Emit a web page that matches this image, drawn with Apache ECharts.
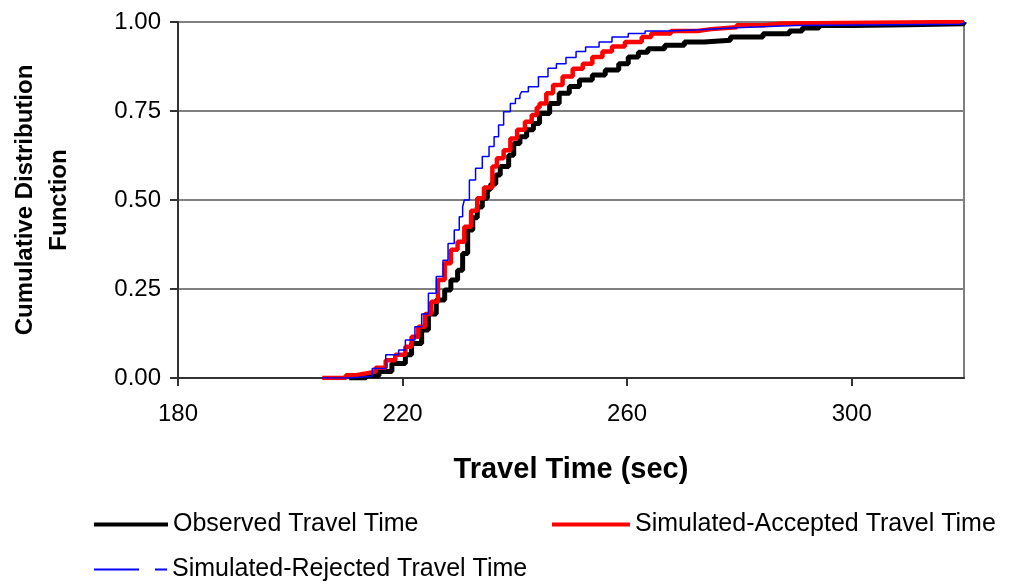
<!DOCTYPE html>
<html>
<head>
<meta charset="utf-8">
<script src="https://cdn.jsdelivr.net/npm/echarts@6/dist/echarts.min.js"></script>
<style>
  html, body { margin: 0; padding: 0; background: #fff; }
  #chart { width: 1013px; height: 585px; }
</style>
</head>
<body>
<div id="chart"></div>
<script>
// Empirical CDFs of travel time: [seconds, cumulative probability]
const observedCdf = [
  [210.5, 0], [213.5, 0.006], [215.8, 0.018], [218.1, 0.041], [220.5, 0.065],
  [221.6, 0.097], [223.4, 0.135], [224.6, 0.18], [226.0, 0.219], [227.5, 0.247],
  [228.6, 0.275], [229.8, 0.303], [230.7, 0.35], [231.6, 0.416], [232.5, 0.45],
  [233.3, 0.48], [234.2, 0.505], [235.1, 0.53], [235.7, 0.545], [236.6, 0.57],
  [237.4, 0.594], [238.9, 0.626], [239.8, 0.659], [240.9, 0.678], [242.1, 0.697],
  [243.3, 0.715], [244.4, 0.743], [246.2, 0.771], [247.9, 0.8], [249.7, 0.819],
  [251.5, 0.837], [253.8, 0.851], [256.1, 0.865], [258.5, 0.883], [260.2, 0.902],
  [262.0, 0.915], [263.7, 0.925], [266.7, 0.935], [270.2, 0.944], [273.7, 0.949],
  [278.4, 0.958], [284.2, 0.967], [288.9, 0.975], [291.2, 0.983], [294.2, 0.99],
  [300.0, 0.992], [310.0, 0.995], [320.0, 1.0]
];

const acceptedCdf = [
  [205.7, 0], [209.9, 0.008], [211.7, 0.013], [213.5, 0.018], [215.2, 0.029],
  [217.0, 0.05], [218.7, 0.065], [220.5, 0.088], [221.6, 0.116], [222.8, 0.144],
  [224.0, 0.18], [225.1, 0.214], [226.3, 0.275], [227.5, 0.322], [228.6, 0.36],
  [229.8, 0.383], [231.0, 0.425], [232.2, 0.47], [233.3, 0.505], [234.5, 0.535],
  [236.0, 0.594], [236.8, 0.617], [238.0, 0.64], [239.2, 0.673], [240.4, 0.697],
  [241.8, 0.72], [243.0, 0.739], [243.9, 0.76], [244.4, 0.771], [245.6, 0.8],
  [246.8, 0.823], [248.5, 0.847], [250.3, 0.869], [252.1, 0.883], [253.8, 0.902],
  [255.6, 0.917], [257.3, 0.931], [259.6, 0.944], [262.6, 0.958], [264.3, 0.968],
  [267.8, 0.975], [272.5, 0.98], [275.0, 0.985], [279.5, 0.991], [284.2, 0.996],
  [287.7, 1.0], [320.0, 1.0]
];

const rejectedCdf = [
  [205.7, 0], [210.5, 0.002], [212.3, 0.005], [214.6, 0.027], [217.0, 0.065],
  [219.3, 0.079], [220.5, 0.107], [222.2, 0.144], [223.4, 0.18], [224.6, 0.238],
  [226.0, 0.285], [227.2, 0.331], [228.1, 0.378], [229.2, 0.416], [230.1, 0.453],
  [230.7, 0.481], [231.0, 0.5], [231.9, 0.556], [233.0, 0.589], [234.2, 0.622],
  [235.4, 0.65], [236.3, 0.678], [237.1, 0.711], [238.0, 0.748], [239.2, 0.771],
  [240.1, 0.785], [240.9, 0.795], [241.2, 0.804], [242.4, 0.818], [244.2, 0.846],
  [245.9, 0.87], [247.4, 0.883], [249.1, 0.9], [250.9, 0.917], [252.6, 0.93],
  [255.0, 0.944], [257.3, 0.958], [260.2, 0.968], [263.2, 0.975], [267.2, 0.978],
  [273.1, 0.983], [278.4, 0.987], [284.0, 0.99], [290.0, 0.994], [319.3, 0.996],
  [320.0, 1.0]
];

const xTicks = [180, 220, 260, 300];
const yTicks = [0, 0.25, 0.5, 0.75, 1];
const seriesNames = [
  'Observed Travel Time',
  'Simulated-Accepted Travel Time',
  'Simulated-Rejected Travel Time'
];

const FONT = '"Liberation Sans", Arial, sans-serif';
const chart = echarts.init(document.getElementById('chart'), null, { renderer: 'canvas' });

const legendText = { fontFamily: FONT, fontSize: 25, color: '#000' };

chart.setOption({
  animation: false,
  backgroundColor: '#fff',
  grid: { left: 166, right: 49, top: 22, bottom: 207, containLabel: false,
          show: true, borderColor: '#808080', borderWidth: 2 },
  xAxis: {
    type: 'value', min: 180, max: 320, interval: 40,
    name: 'Travel Time (sec)', nameLocation: 'middle', nameGap: 77,
    nameTextStyle: { fontFamily: FONT, fontSize: 29, fontWeight: 'bold', color: '#000' },
    axisLine: { show: true, lineStyle: { color: '#333333', width: 2 } },
    axisTick: { show: true, length: 8, customValues: xTicks, lineStyle: { color: '#333333', width: 2 } },
    axisLabel: { customValues: xTicks, margin: 24, fontFamily: FONT, fontSize: 24, color: '#000' },
    splitLine: { show: false }
  },
  yAxis: {
    type: 'value', min: 0, max: 1, interval: 0.25,
    name: 'Cumulative Distribution\nFunction', nameLocation: 'middle', nameRotate: 90, nameGap: 102,
    nameTextStyle: { fontFamily: FONT, fontSize: 24, fontWeight: 'bold', color: '#000', lineHeight: 34, align: 'center' },
    axisLine: { show: true, lineStyle: { color: '#333333', width: 2 } },
    axisTick: { show: true, length: 8, inside: false, customValues: yTicks, lineStyle: { color: '#333333', width: 2 } },
    axisLabel: { customValues: yTicks, margin: 17, fontFamily: FONT, fontSize: 24, color: '#000',
                 formatter: v => v.toFixed(2) },
    splitLine: { show: true, lineStyle: { color: '#808080', width: 2 } }
  },
  legend: [
    { data: [seriesNames[0]], left: 94, top: 512, itemWidth: 74, itemHeight: 4, itemGap: 0,
      icon: 'rect', textStyle: legendText, padding: 0 },
    { data: [seriesNames[1]], left: 552, top: 512, itemWidth: 78, itemHeight: 4, itemGap: 0,
      icon: 'rect', textStyle: legendText, padding: 0 },
    { data: [seriesNames[2]], left: 94, top: 557, itemWidth: 73, itemHeight: 2, itemGap: 0,
      icon: 'path://M0,0h45v2h-45z M61,0h12v2h-12z', textStyle: legendText, padding: 0 }
  ],
  series: [
    { name: seriesNames[0], type: 'line', step: 'end', data: observedCdf, symbol: 'none',
      color: '#000000', lineStyle: { color: '#000000', width: 5 }, z: 2 },
    { name: seriesNames[1], type: 'line', step: 'end', data: acceptedCdf, symbol: 'none',
      color: '#ff0000', lineStyle: { color: '#ff0000', width: 4.5 }, z: 3 },
    { name: seriesNames[2], type: 'line', step: 'end', data: rejectedCdf, symbol: 'none',
      color: '#0000ff', lineStyle: { color: '#0000ff', width: 1.5 }, z: 4 }
  ]
});
</script>
</body>
</html>
